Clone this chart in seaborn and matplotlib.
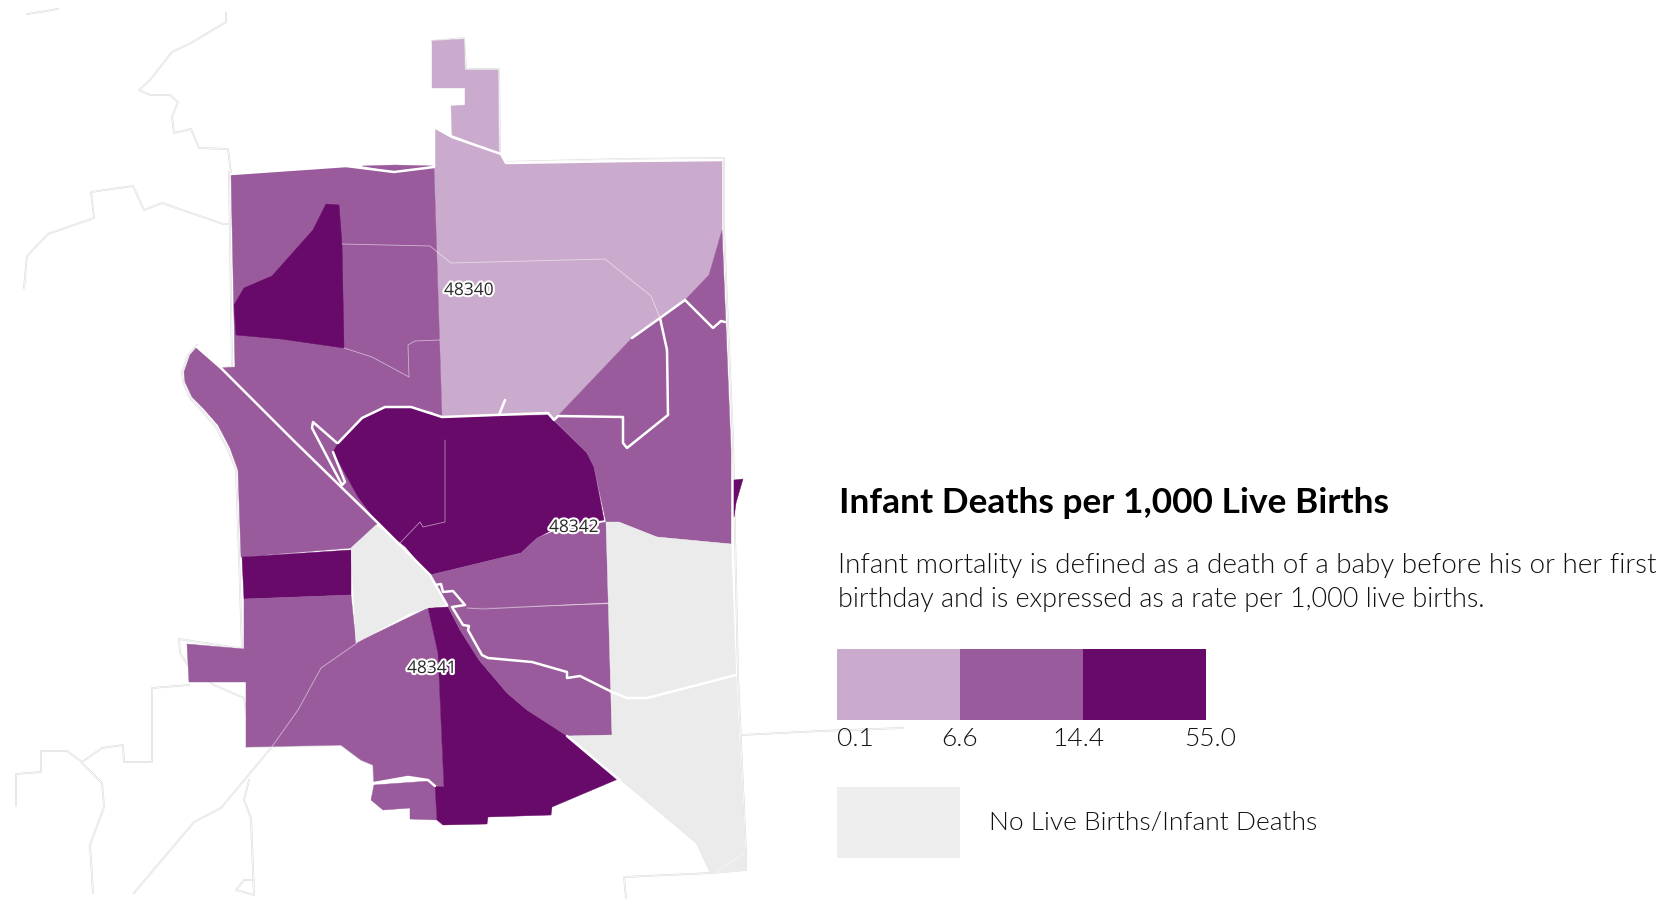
import matplotlib
matplotlib.use("Agg")
import matplotlib.pyplot as plt
import matplotlib.patheffects as pe
from matplotlib.colors import ListedColormap
from matplotlib.patches import Polygon
import numpy as np
import seaborn as sns

# ---- legend data ----
class_breaks = ["0.1", "6.6", "14.4", "55.0"]
class_colors = ["#CBABCD", "#995B9B", "#680A69"]
no_data_color = "#EBEBEB"
title_text = "Infant Deaths per 1,000 Live Births"
body_lines = ["Infant mortality is defined as a death of a baby before his or her first",
              "birthday and is expressed as a rate per 1,000 live births."]
no_data_text = "No Live Births/Infant Deaths"

# ---- zip labels ----
zip_names = ["48340", "48342", "48341"]
zip_x = [469, 574, 432]
zip_y = [291, 528, 669]

# ---- map shapes (x, y in picture pixels) ----
north_strip = [(432, 41), (464, 39), (465, 70), (498, 70), (499, 153), (452, 135), (451, 106), (465, 105), (465, 88), (432, 88)]
north_main = [(434, 127), (452, 137), (501, 154), (506, 163), (627, 161), (722, 160), (722, 230), (709, 275), (685, 300),
              (660, 318), (632, 338), (554, 420), (548, 415), (442, 417), (434, 167)]
northwest = [(231, 174), (346, 166), (394, 172), (434, 167), (442, 417), (432, 412), (411, 407), (385, 407), (362, 418),
             (338, 443), (333, 452), (358, 497), (383, 517), (376, 525), (351, 548), (241, 557), (238, 470), (230, 448),
             (218, 425), (203, 408), (192, 397), (185, 382), (184, 372), (190, 355), (197, 347), (221, 368), (235, 367)]
north_sliver = [(362, 166), (395, 165), (434, 166), (394, 172)]
nw_dark = [(326, 204), (339, 205), (342, 244), (344, 348), (281, 339), (236, 335), (234, 305), (244, 288), (272, 276), (313, 230)]
center_dark = [(338, 443), (362, 418), (385, 407), (411, 407), (442, 417), (548, 415), (587, 453), (594, 467), (604, 520),
               (552, 530), (537, 538), (521, 553), (430, 575), (378, 523), (358, 497), (333, 452)]
east_mid = [(722, 230), (731, 450), (731, 544), (657, 537), (619, 522), (606, 522), (594, 467), (587, 453), (554, 420),
            (632, 338), (685, 300), (709, 275)]
east_sliver = [(734, 480), (743, 479), (736, 503), (734, 517)]
west_rect = [(242, 557), (351, 550), (351, 595), (244, 599)]
southwest = [(244, 599), (351, 595), (356, 643), (428, 608), (438, 653), (444, 787), (433, 785), (428, 780), (408, 777),
             (374, 783), (373, 765), (361, 760), (341, 745), (246, 747), (246, 682), (189, 682), (187, 644), (244, 649)]
south_small = [(374, 785), (430, 781), (435, 786), (437, 820), (410, 819), (410, 808), (383, 810), (371, 800)]
south_dark = [(428, 608), (448, 607), (460, 630), (479, 660), (507, 693), (527, 710), (567, 735), (618, 779), (552, 807),
              (551, 815), (488, 817), (487, 824), (443, 825), (437, 820), (435, 786), (444, 787), (438, 653)]
center_grey = [(376, 525), (351, 548), (356, 643), (410, 613), (428, 608), (447, 605), (433, 580), (405, 547)]
center_mid = [(430, 575), (521, 553), (537, 538), (552, 532), (606, 522), (609, 603), (483, 608), (455, 607), (447, 605), (433, 580)]
southeast_mid = [(448, 606), (483, 608), (609, 604), (612, 735), (567, 736), (527, 710), (507, 693), (479, 660), (460, 630)]
east_grey = [(606, 522), (619, 522), (657, 537), (731, 544), (736, 675), (745, 853), (745, 870), (711, 873), (697, 843),
             (622, 780), (567, 736), (612, 735)]

shapes = [north_strip, north_main, northwest, north_sliver, nw_dark, center_dark, east_mid, east_sliver, west_rect,
          southwest, south_small, south_dark, center_grey, center_mid, southeast_mid, east_grey]
# rate class per shape: 0, 1, 2 as in the legend, -1 = no births/deaths
shape_class = [0, 0, 1, 1, 2, 2, 1, 2, 2, 1, 1, 2, -1, 1, 1, -1]

# white zip boundaries, heavy
white_lines = [
    [(197, 347), (221, 368), (293, 440), (378, 523), (430, 575), (447, 605)],
    [(337, 443), (313, 422), (312, 428), (342, 485), (345, 482), (333, 452)],
    [(660, 318), (667, 350), (668, 415), (627, 448), (623, 443), (623, 417), (558, 416), (554, 420), (548, 413), (442, 417),
     (411, 407), (385, 407), (362, 418), (338, 443)],
    [(685, 300), (713, 328), (721, 321), (725, 322)],
    [(505, 400), (499, 415)],
    [(632, 338), (660, 318), (685, 300)],
    [(435, 585), (441, 584), (443, 592), (453, 591), (465, 605), (452, 607), (463, 625), (469, 626), (468, 630), (482, 655),
     (488, 658), (532, 662), (567, 672), (567, 678), (580, 676), (612, 692), (627, 698), (647, 698), (736, 675)],
    [(434, 127), (452, 137), (501, 154), (506, 163), (627, 161), (722, 160)],
    [(231, 174), (346, 166), (394, 172), (434, 167), (434, 127)],
    [(567, 736), (618, 779)],
    [(374, 783), (408, 777), (428, 780), (435, 786)],
]
# thin tract lines inside the zips
thin_lines = [
    [(342, 244), (430, 246), (451, 263), (605, 259), (651, 296), (660, 318)],
    [(344, 348), (372, 357), (409, 377), (408, 345), (415, 341), (440, 340)],
    [(445, 440), (445, 522), (423, 527), (420, 522), (400, 543)],
    [(271, 748), (298, 710), (321, 668), (357, 643)],
    [(744, 853), (714, 873)],
    [(467, 608), (483, 609), (609, 603)],
]
# outside roads and township lines
road_lines = [
    [(226, 13), (226, 22), (191, 43), (172, 52), (150, 80), (139, 90), (150, 95), (170, 95), (178, 102), (172, 117), (174, 133),
     (191, 129), (199, 148), (228, 149), (231, 173)],
    [(24, 288), (27, 256), (48, 234), (94, 218), (91, 192), (133, 186), (144, 210), (162, 203), (223, 224), (231, 224)],
    [(27, 14), (40, 12), (58, 9)],
    [(179, 639), (180, 653), (189, 667), (214, 685), (244, 698), (246, 713)],
    [(189, 685), (152, 688), (152, 762), (124, 762), (123, 745), (102, 748), (82, 762), (67, 751), (41, 751), (41, 772),
     (16, 774), (16, 806)],
    [(82, 763), (102, 783), (104, 807), (90, 845), (93, 893)],
    [(134, 893), (194, 822), (221, 808), (271, 748)],
    [(249, 780), (244, 800), (251, 818), (254, 895), (236, 890), (244, 880), (254, 880)],
    [(626, 898), (624, 877), (711, 873), (745, 870)],
    [(741, 735), (820, 731), (903, 728)],
    [(179, 639), (244, 649)],
    [(246, 747), (341, 745), (361, 760), (373, 765), (374, 783)],
    [(622, 780), (697, 843), (711, 873)],
    [(506, 162), (627, 159), (724, 158), (724, 230), (733, 440), (738, 675), (746, 853), (746, 870)],
    [(229, 172), (232, 367), (221, 368)],
    [(197, 345), (188, 355), (182, 372), (183, 382), (190, 398), (201, 410), (216, 427), (228, 450), (236, 470), (239, 557),
     (242, 649)],
    [(432, 41), (464, 38), (466, 69), (499, 69), (500, 153)],
]

sns.set_theme(style="white")
plt.rcParams["font.family"] = ["Lato", "DejaVu Sans"]

fig = plt.figure(figsize=(16.7, 8.99), dpi=100, facecolor="white")
ax = fig.add_axes([0, 0, 1, 1])
ax.set_xlim(0, 1670)
ax.set_ylim(899, 0)
ax.axis("off")


def class_color(c):
    return no_data_color if c < 0 else class_colors[c]


for shape, c in zip(shapes, shape_class):
    ax.add_patch(Polygon(shape, closed=True, facecolor=class_color(c), edgecolor=class_color(c), linewidth=0.3, zorder=2))

for line in road_lines:
    xs, ys = zip(*line)
    ax.plot(xs, ys, color="#DADADA", lw=1.3, zorder=1, solid_joinstyle="round")
    ax.plot(xs, ys, color="white", lw=0.5, zorder=1.1, solid_joinstyle="round")
for line in thin_lines:
    xs, ys = zip(*line)
    ax.plot(xs, ys, color="white", lw=0.6, alpha=0.55, zorder=3)
for line in white_lines:
    xs, ys = zip(*line)
    ax.plot(xs, ys, color="white", lw=1.8, zorder=4, solid_joinstyle="round")

for name, x, y in zip(zip_names, zip_x, zip_y):
    ax.text(x, y, name, fontsize=12.5, family="Open Sans", color="#2A2A2A", ha="center", va="center", zorder=6,
            path_effects=[pe.withStroke(linewidth=3, foreground="white")])

# legend text
ax.text(839, 503, title_text, fontsize=25.4, fontweight="bold", color="black", va="center", ha="left", zorder=6)
ax.text(838, 566, body_lines[0], fontsize=20, fontweight=300, color="#111111", va="center", ha="left", zorder=6)
ax.text(838, 599, body_lines[1], fontsize=19.4, fontweight=300, color="#111111", va="center", ha="left", zorder=6)
ax.text(989, 823, no_data_text, fontsize=19, fontweight=300, color="#111111", va="center", ha="left", zorder=6)

# legend swatches as little heatmaps
cax = fig.add_axes([837 / 1670, 1 - 720 / 899, 369 / 1670, 71 / 899], zorder=5)
sns.heatmap(np.array([[0, 1, 2]]), ax=cax, cmap=ListedColormap(class_colors), cbar=False, xticklabels=False,
            yticklabels=False, vmin=-0.5, vmax=2.5)
gax = fig.add_axes([837 / 1670, 1 - 858 / 899, 123 / 1670, 71 / 899], zorder=5)
sns.heatmap(np.array([[0]]), ax=gax, cmap=ListedColormap(["#EEEEEE"]), cbar=False, xticklabels=False, yticklabels=False)

for label, x in zip(class_breaks, [855, 960, 1078.5, 1210]):
    ax.text(x, 739, label, fontsize=19, fontweight=300, color="#111111", ha="center", va="center", zorder=6)

fig.savefig("out.png", dpi=100, facecolor="white")
